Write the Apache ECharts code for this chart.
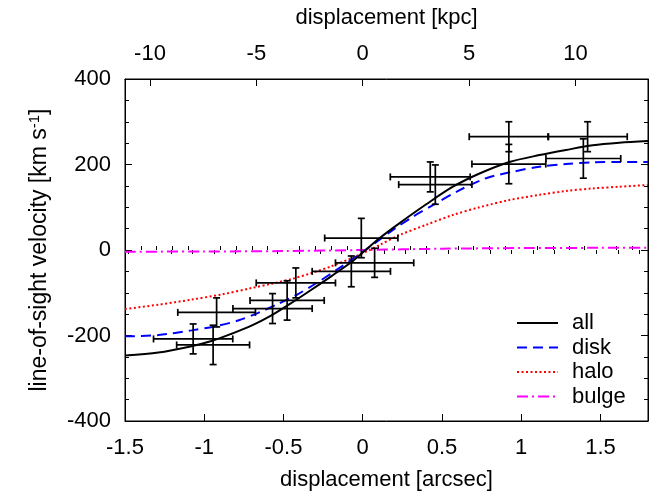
<!DOCTYPE html>
<html>
<head>
<meta charset="utf-8">
<script src="https://cdn.jsdelivr.net/npm/echarts@6/dist/echarts.min.js"></script>
<style>html,body{margin:0;padding:0;background:#fff;}#c{width:664px;height:496px;}</style>
</head>
<body>
<div id="c"></div>
<script>
// ---- data ----
const arcsecTicks = [-1.5, -1, -0.5, 0, 0.5, 1, 1.5];
const arcsecMinorTicks = [-1.4, -1.3, -1.2, -1.1, -0.9, -0.8, -0.7, -0.6, -0.4, -0.3, -0.2, -0.1, 0.1, 0.2, 0.3, 0.4, 0.6, 0.7, 0.8, 0.9, 1.1, 1.2, 1.3, 1.4, 1.6, 1.7];
const kpcTicks = [-10, -5, 0, 5, 10];
const kpcMinorTicks = [-11, -9, -8, -7, -6, -4, -3, -2, -1, 1, 2, 3, 4, 6, 7, 8, 9, 11, 12, 13];
const kpcPerArcsec = 7.45;

// observed points: position [arcsec], velocity [km/s], errors
const obsX    = [-1.07, -0.944, -0.922, -0.569, -0.477, -0.422, -0.072, -0.009, 0.075, 0.426, 0.458, 0.922, 0.922, 1.419, 1.392];
const obsV    = [-208, -222, -146, -137, -118, -77, -50, 28, -30, 171, 153, 265, 201, 265, 214];
const obsXErr = [0.25, 0.23, 0.245, 0.25, 0.234, 0.25, 0.247, 0.231, 0.247, 0.252, 0.231, 0.25, 0.233, 0.25, 0.236];
const obsVErr = [35, 46, 34, 35, 46, 35, 36, 46, 34, 35, 46, 35, 46, 35, 46];

// model curves
const allX = [-1.5, -1.29, -1.08, -0.954, -0.828, -0.702, -0.576, -0.45, -0.324, -0.197, -0.071, 0.0, 0.107, 0.233, 0.401, 0.569, 0.737, 0.926, 1.115, 1.283, 1.451, 1.619, 1.8];
const allV = [-247, -240, -225, -213, -196, -177, -153, -124, -93, -61, -28, -6, 28, 63, 107, 148, 179, 206, 222, 234, 245, 251, 255];
const diskX = [-1.5, -1.29, -1.08, -0.912, -0.786, -0.66, -0.534, -0.408, -0.282, -0.155, -0.029, 0.065, 0.191, 0.317, 0.443, 0.611, 0.779, 0.947, 1.115, 1.283, 1.451, 1.619, 1.8];
const diskV = [-202, -199, -188, -177, -165, -147, -126, -103, -75, -44, -12, 13, 47, 78, 105, 140, 168, 183, 195, 201, 205, 206, 206];
const haloX = [-1.5, -1.29, -1.08, -0.891, -0.702, -0.576, -0.45, -0.324, -0.197, -0.071, 0.044, 0.107, 0.233, 0.401, 0.569, 0.737, 0.926, 1.115, 1.283, 1.451, 1.619, 1.8];
const haloV = [-138, -128, -116, -104, -89, -79, -68, -54, -38, -19, 0, 12, 35, 59, 82, 100, 117, 129, 138, 144, 148, 152];
const bulgeX = [-1.5, -1, -0.5, 0, 0.5, 1, 1.5, 1.8];
const bulgeV = [-4, -3.5, -2.5, 0, 3, 4.5, 5, 5];

const FONT = 'Liberation Sans, Arial, sans-serif';
const pairs = (xs, ys) => xs.map((x, i) => [x, ys[i]]);
const obsData = obsX.map((x, i) => [x, obsV[i], obsXErr[i], obsVErr[i]]);

const chart = echarts.init(document.getElementById('c'), null, {renderer: 'canvas'});
const txt = {color: '#000', fontFamily: FONT, fontSize: 22};

function errRender(params, api) {
  const x = api.value(0), y = api.value(1), xe = api.value(2), ye = api.value(3);
  const l = api.coord([x - xe, y]), r = api.coord([x + xe, y]);
  const t = api.coord([x, y + ye]), b = api.coord([x, y - ye]);
  const cap = 3.5;
  const st = {stroke: '#000', lineWidth: 1.7};
  const ln = (x1, y1, x2, y2) => ({type: 'line', shape: {x1, y1, x2, y2}, style: st});
  return {type: 'group', children: [
    ln(l[0], l[1], r[0], r[1]),
    ln(t[0], t[1], b[0], b[1]),
    ln(l[0], l[1] - cap, l[0], l[1] + cap),
    ln(r[0], r[1] - cap, r[0], r[1] + cap),
    ln(t[0] - cap, t[1], t[0] + cap, t[1]),
    ln(b[0] - cap, b[1], b[0] + cap, b[1])
  ]};
}

const blackLine = {color: '#000'};
const option = {
  animation: false,
  backgroundColor: '#fff',
  textStyle: {fontFamily: FONT},
  grid: {left: 125, right: 16, top: 79, bottom: 74, show: true, borderColor: '#000', borderWidth: 1, backgroundColor: 'transparent'},
  legend: {
    orient: 'vertical', left: 516, top: 312, itemWidth: 41, itemHeight: 14, itemGap: 2.5,
    padding: 0,
    data: ['all', 'disk', 'halo', 'bulge'],
    itemStyle: {opacity: 0},
    textStyle: {color: '#000', fontFamily: FONT, fontSize: 22, padding: [0, 0, 0, 9]}
  },
  xAxis: [
    {type: 'value', position: 'bottom', min: -1.5, max: 1.8,
     axisLine: {onZero: false, lineStyle: blackLine},
     axisTick: {inside: true, length: 7, customValues: arcsecTicks, lineStyle: blackLine},
     axisLabel: Object.assign({customValues: arcsecTicks, margin: 16}, txt),
     splitLine: {show: false},
     name: 'displacement [arcsec]', nameLocation: 'middle', nameGap: 48, nameTextStyle: txt},
    {type: 'value', position: 'bottom', min: -1.5, max: 1.8,
     axisLine: {show: false},
     axisTick: {inside: true, length: 4, customValues: arcsecMinorTicks, lineStyle: blackLine},
     axisLabel: {show: false}, splitLine: {show: false}},
    {type: 'value', position: 'top', min: -1.5 * kpcPerArcsec, max: 1.8 * kpcPerArcsec,
     axisLine: {onZero: false, lineStyle: blackLine},
     axisTick: {inside: true, length: 7, customValues: kpcTicks, lineStyle: blackLine},
     axisLabel: Object.assign({customValues: kpcTicks, margin: 14}, txt),
     splitLine: {show: false},
     name: 'displacement [kpc]', nameLocation: 'middle', nameGap: 50, nameTextStyle: txt},
    {type: 'value', position: 'top', min: -1.5 * kpcPerArcsec, max: 1.8 * kpcPerArcsec,
     axisLine: {show: false},
     axisTick: {inside: true, length: 4, customValues: kpcMinorTicks, lineStyle: blackLine},
     axisLabel: {show: false}, splitLine: {show: false}}
  ],
  yAxis: [
    {type: 'value', position: 'left', min: -400, max: 400, interval: 200,
     axisLine: {onZero: false, lineStyle: blackLine},
     axisTick: {inside: true, length: 7, lineStyle: blackLine},
     minorTick: {show: true, splitNumber: 4, length: 4, lineStyle: blackLine},
     axisLabel: Object.assign({margin: 14}, txt),
     splitLine: {show: false},
     name: 'line-of-sight velocity [km s{sup|-1}]', nameLocation: 'middle', nameGap: 73, nameRotate: 90,
     nameTextStyle: Object.assign({}, txt, {fontSize: 23, rich: {sup: {fontSize: 15, color: '#000', fontFamily: FONT, padding: [0, 0, 10, 0]}}})},
    {type: 'value', position: 'right', min: -400, max: 400, interval: 200,
     axisLine: {onZero: false, lineStyle: blackLine},
     axisTick: {inside: true, length: 7, lineStyle: blackLine},
     minorTick: {show: true, splitNumber: 4, length: 4, lineStyle: blackLine},
     axisLabel: {show: false}, splitLine: {show: false}}
  ],
  series: [
    {name: 'all', type: 'line', data: pairs(allX, allV), smooth: 0.3, symbol: 'none',
     lineStyle: {color: '#000', width: 2}, itemStyle: {color: '#000'}, z: 5},
    {name: 'disk', type: 'line', data: pairs(diskX, diskV), smooth: 0.3, symbol: 'none',
     lineStyle: {color: '#0000ff', width: 2, type: [10, 6]}, itemStyle: {color: '#0000ff'}, z: 4},
    {name: 'halo', type: 'line', data: pairs(haloX, haloV), smooth: 0.3, symbol: 'none',
     lineStyle: {color: '#ff0000', width: 2, type: [2, 2.5]}, itemStyle: {color: '#ff0000'}, z: 3},
    {name: 'bulge', type: 'line', data: pairs(bulgeX, bulgeV), smooth: 0.3, symbol: 'none',
     lineStyle: {color: '#ff00ff', width: 2, type: [11, 4, 2, 4]}, itemStyle: {color: '#ff00ff'}, z: 2},
    {name: 'obs', type: 'custom', renderItem: errRender, data: obsData,
     encode: {x: 0, y: 1}, z: 6, silent: true}
  ]
};
chart.setOption(option);
</script>
</body>
</html>
